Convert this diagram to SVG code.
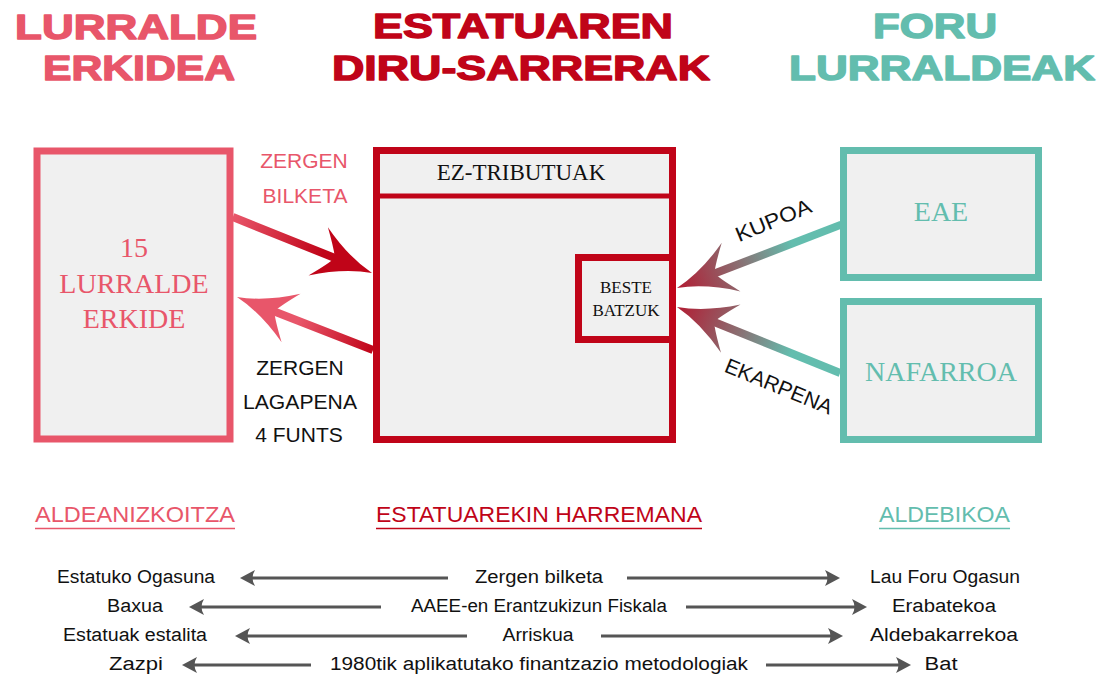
<svg xmlns="http://www.w3.org/2000/svg" width="1099" height="675" viewBox="0 0 1099 675">
<style>
.title{font-family:"Liberation Sans",Arial,sans-serif;font-weight:bold;font-size:35px;stroke-width:1.4;stroke-linejoin:round}
.pink{fill:#e8566a}
.red{fill:#c00418}
.teal{fill:#63bdae}
.title.pink{stroke:#e8566a}
.title.red{stroke:#c00418}
.title.teal{stroke:#63bdae}
.serif{font-family:"Liberation Serif","Times New Roman",serif;text-anchor:middle}
.lbl{font-family:"Liberation Sans",Arial,sans-serif;font-size:21px;text-anchor:middle}
.row{font-family:"Liberation Sans",Arial,sans-serif;font-size:18px;fill:#111;text-anchor:middle}
.hdr{font-family:"Liberation Sans",Arial,sans-serif;font-size:22px}
.box{fill:#f0f0f0;stroke-width:7}
.garrow{stroke:#555;stroke-width:3;fill:none;marker-end:url(#gh)}
</style>
<defs>
<marker id="gh" markerUnits="userSpaceOnUse" markerWidth="20" markerHeight="20" viewBox="0 -10 20 20" refX="7" refY="0" orient="auto">
<path d="M15,0 L0,-8 Q5,0 0,8 Z" fill="#555"/>
</marker>
<path id="head" d="M0,0 Q-28,-6 -58,-26 Q-44,-8 -40,0 Q-44,8 -58,26 Q-28,6 0,0 Z"/>
<linearGradient id="g1" gradientUnits="userSpaceOnUse" x1="-150" y1="0" x2="0" y2="0">
<stop offset="0" stop-color="#e8566a"/><stop offset="0.65" stop-color="#c00418"/><stop offset="1" stop-color="#c00418"/>
</linearGradient>
<linearGradient id="g2" gradientUnits="userSpaceOnUse" x1="-146" y1="0" x2="0" y2="0">
<stop offset="0" stop-color="#c00418"/><stop offset="0.55" stop-color="#e8566a"/><stop offset="1" stop-color="#e8566a"/>
</linearGradient>
<linearGradient id="g3" gradientUnits="userSpaceOnUse" x1="-176" y1="0" x2="0" y2="0">
<stop offset="0" stop-color="#63bdae"/><stop offset="0.3" stop-color="#63bdae"/><stop offset="0.62" stop-color="#8a6f72"/><stop offset="1" stop-color="#b21c33"/>
</linearGradient>
</defs>
<rect width="1099" height="675" fill="#ffffff"/>

<g id="titles">
<text class="title pink" x="15" y="39" textLength="242" lengthAdjust="spacingAndGlyphs">LURRALDE</text>
<text class="title pink" x="43" y="80" textLength="192" lengthAdjust="spacingAndGlyphs">ERKIDEA</text>
<text class="title red" x="373" y="38" textLength="300" lengthAdjust="spacingAndGlyphs">ESTATUAREN</text>
<text class="title red" x="332" y="80" textLength="378" lengthAdjust="spacingAndGlyphs">DIRU-SARRERAK</text>
<text class="title teal" x="873" y="38" textLength="124" lengthAdjust="spacingAndGlyphs">FORU</text>
<text class="title teal" x="789" y="80" textLength="306" lengthAdjust="spacingAndGlyphs">LURRALDEAK</text>
</g>

<g id="node-lurralde-erkide">
<rect class="box" x="37" y="151" width="193" height="288" stroke="#e8566a"/>
<text class="serif pink" x="134" y="257" font-size="28">15</text>
<text class="serif pink" x="134" y="293" font-size="28">LURRALDE</text>
<text class="serif pink" x="134" y="328" font-size="28">ERKIDE</text>
</g>

<g id="node-estatua">
<rect class="box" x="376.5" y="150.5" width="296" height="289" stroke="#c00418"/>
<line x1="376.5" y1="196" x2="672.5" y2="196" stroke="#c00418" stroke-width="5"/>
<text class="serif" x="521" y="180" font-size="23" fill="#111">EZ-TRIBUTUAK</text>
</g>

<g id="node-beste-batzuk">
<rect class="box" x="578.5" y="257.5" width="94" height="82" stroke="#c00418"/>
<text class="serif" x="626" y="293" font-size="17" fill="#111">BESTE</text>
<text class="serif" x="626" y="316" font-size="17" fill="#111">BATZUK</text>
</g>

<g id="node-eae">
<rect class="box" x="843.5" y="150.5" width="195" height="127" stroke="#63bdae"/>
<text class="serif teal" x="941" y="221" font-size="28">EAE</text>
</g>

<g id="node-nafarroa">
<rect class="box" x="843.5" y="301.5" width="195" height="138" stroke="#63bdae"/>
<text class="serif teal" x="941" y="381" font-size="28">NAFARROA</text>
</g>

<g id="connectors">
<g transform="translate(372,273) rotate(21.9)" fill="url(#g1)">
<rect x="-150" y="-4" width="112" height="8"/>
<use href="#head"/>
</g>
<g transform="translate(237,297) rotate(201.3)" fill="url(#g2)">
<rect x="-146" y="-4" width="108" height="8"/>
<use href="#head"/>
</g>
<g transform="translate(677,288) rotate(158.9)" fill="url(#g3)">
<rect x="-176" y="-4" width="138" height="8"/>
<use href="#head"/>
</g>
<g transform="translate(677,307) rotate(202)" fill="url(#g3)">
<rect x="-176" y="-4" width="138" height="8"/>
<use href="#head"/>
</g>
</g>

<g id="arrow-labels">
<text class="lbl pink" x="304" y="168">ZERGEN</text>
<text class="lbl pink" x="305" y="203">BILKETA</text>
<text class="lbl" x="300" y="375" fill="#111">ZERGEN</text>
<text class="lbl" x="300" y="409" fill="#111" textLength="114" lengthAdjust="spacingAndGlyphs">LAGAPENA</text>
<text class="lbl" x="299" y="442" fill="#111">4 FUNTS</text>
<text class="lbl" x="776" y="227" fill="#111" transform="rotate(-22.3 776 227)" textLength="80" lengthAdjust="spacingAndGlyphs">KUPOA</text>
<text class="lbl" x="776" y="393" fill="#111" transform="rotate(22.4 776 393)">EKARPENA</text>
</g>

<g id="headers">
<text class="hdr pink" x="35" y="522" textLength="200" lengthAdjust="spacingAndGlyphs">ALDEANIZKOITZA</text>
<line x1="35" y1="528.5" x2="235" y2="528.5" stroke="#e8566a" stroke-width="1.5"/>
<text class="hdr red" x="376" y="522" textLength="326" lengthAdjust="spacingAndGlyphs">ESTATUAREKIN HARREMANA</text>
<line x1="376" y1="528.5" x2="702" y2="528.5" stroke="#c00418" stroke-width="1.5"/>
<text class="hdr teal" x="879" y="522" textLength="131" lengthAdjust="spacingAndGlyphs">ALDEBIKOA</text>
<line x1="879" y1="528.5" x2="1010" y2="528.5" stroke="#63bdae" stroke-width="1.5"/>
</g>

<g id="rows">
<text class="row" x="136" y="583" textLength="158" lengthAdjust="spacingAndGlyphs">Estatuko Ogasuna</text>
<text class="row" x="539" y="583" textLength="128" lengthAdjust="spacingAndGlyphs">Zergen bilketa</text>
<text class="row" x="945" y="583" textLength="150" lengthAdjust="spacingAndGlyphs">Lau Foru Ogasun</text>
<text class="row" x="135" y="612" textLength="56" lengthAdjust="spacingAndGlyphs">Baxua</text>
<text class="row" x="539" y="612" textLength="256" lengthAdjust="spacingAndGlyphs">AAEE-en Erantzukizun Fiskala</text>
<text class="row" x="944" y="612" textLength="104" lengthAdjust="spacingAndGlyphs">Erabatekoa</text>
<text class="row" x="135" y="641" textLength="144" lengthAdjust="spacingAndGlyphs">Estatuak estalita</text>
<text class="row" x="538" y="641" textLength="71" lengthAdjust="spacingAndGlyphs">Arriskua</text>
<text class="row" x="944" y="641" textLength="148" lengthAdjust="spacingAndGlyphs">Aldebakarrekoa</text>
<text class="row" x="136" y="670" textLength="54" lengthAdjust="spacingAndGlyphs">Zazpi</text>
<text class="row" x="539" y="670" textLength="418" lengthAdjust="spacingAndGlyphs">1980tik aplikatutako finantzazio metodologiak</text>
<text class="row" x="941" y="670" textLength="33" lengthAdjust="spacingAndGlyphs">Bat</text>
</g>

<g id="row-connectors">
<line class="garrow" x1="448" y1="578" x2="248" y2="578"/>
<line class="garrow" x1="627" y1="578" x2="832" y2="578"/>
<line class="garrow" x1="381" y1="607" x2="197" y2="607"/>
<line class="garrow" x1="686" y1="607" x2="859" y2="607"/>
<line class="garrow" x1="467" y1="636" x2="243" y2="636"/>
<line class="garrow" x1="601" y1="636" x2="835" y2="636"/>
<line class="garrow" x1="311" y1="665" x2="190" y2="665"/>
<line class="garrow" x1="766" y1="665" x2="903" y2="665"/>
</g>
</svg>
